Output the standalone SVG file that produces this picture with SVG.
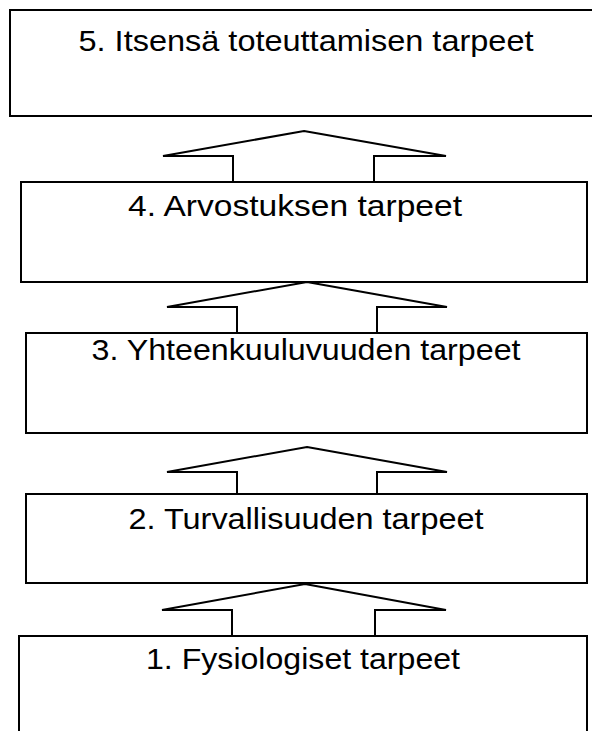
<svg xmlns="http://www.w3.org/2000/svg" width="592" height="731" viewBox="0 0 592 731">
<style>
.box{fill:#fff;stroke:#000;stroke-width:2}
.arr{fill:#fff;stroke:#000;stroke-width:2;stroke-linejoin:miter}
.lbl{font-family:"Liberation Sans",Arial,sans-serif;font-size:29px;fill:#000;text-anchor:middle}
</style>
<rect width="592" height="731" fill="#fff"/>
<g id="connectors">
<polygon class="arr" points="304,131 446,156 374,156 374,182 233,182 233,156 163,156"/>
<polygon class="arr" points="307,282 447,307 377,307 377,333 237,333 237,307 167,307"/>
<polygon class="arr" points="307,447 447,472 377,472 377,494 237,494 237,472 167,472"/>
<polygon class="arr" points="305,584 446,610 375,610 375,636 232,636 232,610 162,610"/>
</g>
<g id="n5"><rect class="box" x="10" y="10" width="590" height="106"/><text class="lbl" x="306" y="51" textLength="455" lengthAdjust="spacingAndGlyphs">5. Itsensä toteuttamisen tarpeet</text></g>
<g id="n4"><rect class="box" x="21" y="182" width="566" height="100"/><text class="lbl" x="295" y="216" textLength="334" lengthAdjust="spacingAndGlyphs">4. Arvostuksen tarpeet</text></g>
<g id="n3"><rect class="box" x="26" y="333" width="561" height="100"/><text class="lbl" x="306" y="360" textLength="429" lengthAdjust="spacingAndGlyphs">3. Yhteenkuuluvuuden tarpeet</text></g>
<g id="n2"><rect class="box" x="26" y="494" width="561" height="89"/><text class="lbl" x="306" y="529" textLength="355" lengthAdjust="spacingAndGlyphs">2. Turvallisuuden tarpeet</text></g>
<g id="n1"><rect class="box" x="19" y="636" width="568" height="110"/><text class="lbl" x="303" y="669" textLength="314" lengthAdjust="spacingAndGlyphs">1. Fysiologiset tarpeet</text></g>
</svg>
